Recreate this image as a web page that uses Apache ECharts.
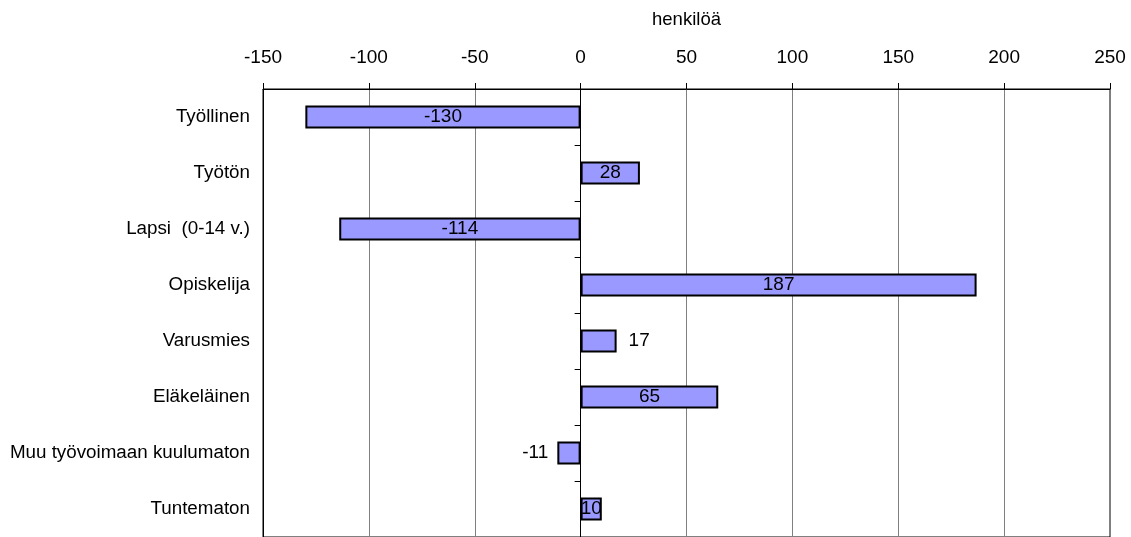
<!DOCTYPE html>
<html><head><meta charset="utf-8">
<script src="https://cdn.jsdelivr.net/npm/echarts@6/dist/echarts.min.js"></script>
<style>html,body{margin:0;padding:0;background:#fff}#c{width:1131px;height:537px}</style>
</head><body><div id="c"></div>
<script>
const categories = ['Työllinen','Työtön','Lapsi  (0-14 v.)','Opiskelija','Varusmies','Eläkeläinen','Muu työvoimaan kuulumaton','Tuntematon'];
const values = [-130, 28, -114, 187, 17, 65, -11, 10];
const axisName = 'henkilöä';
const labelPlacement = ['inside','inside','inside','inside','right','inside','left','inside'];

const font = 'Liberation Sans, Arial, sans-serif';
const chart = echarts.init(document.getElementById('c'));
chart.setOption({
  animation: false,
  grid: {left: 263, right: 21, top: 89, bottom: -1, show: true, borderColor: '#000', borderWidth: 1, backgroundColor: 'transparent', containLabel: false},
  xAxis: {
    type: 'value', position: 'top', min: -150, max: 250, interval: 50,
    name: axisName, nameLocation: 'middle', nameGap: 60,
    nameTextStyle: {color: '#000', fontSize: 18.5, fontFamily: font},
    axisLine: {show: true, lineStyle: {color: '#000', width: 1}},
    axisTick: {show: true, length: 6, lineStyle: {color: '#000'}},
    axisLabel: {color: '#000', fontSize: 19, fontFamily: font, margin: 22},
    splitLine: {show: true, showMinLine: false, showMaxLine: false, lineStyle: {color: '#808080', width: 1}}
  },
  yAxis: [{
    type: 'category', data: categories, inverse: true, position: 'left',
    axisLine: {show: true, onZero: false, lineStyle: {color: '#000'}},
    axisTick: {show: false},
    axisLabel: {color: '#000', fontSize: 18.8, fontFamily: font, margin: 13}
  }, {
    type: 'category', data: categories, inverse: true, position: 'right',
    axisLine: {show: true, onZero: true, lineStyle: {color: '#000'}},
    axisTick: {show: true, inside: true, length: 6, lineStyle: {color: '#000'}},
    axisLabel: {show: false}
  }],
  series: [{
    type: 'bar', yAxisIndex: 0, barWidth: 23,
    itemStyle: {color: '#9999FF', borderColor: '#000', borderWidth: 2},
    data: values.map((v, i) => ({
      value: v,
      label: {position: labelPlacement[i], distance: labelPlacement[i] === 'right' ? 12 : 9}
    })),
    label: {show: true, color: '#000', fontSize: 19, fontFamily: font, textBorderWidth: 0}
  }]
});
</script></body></html>
